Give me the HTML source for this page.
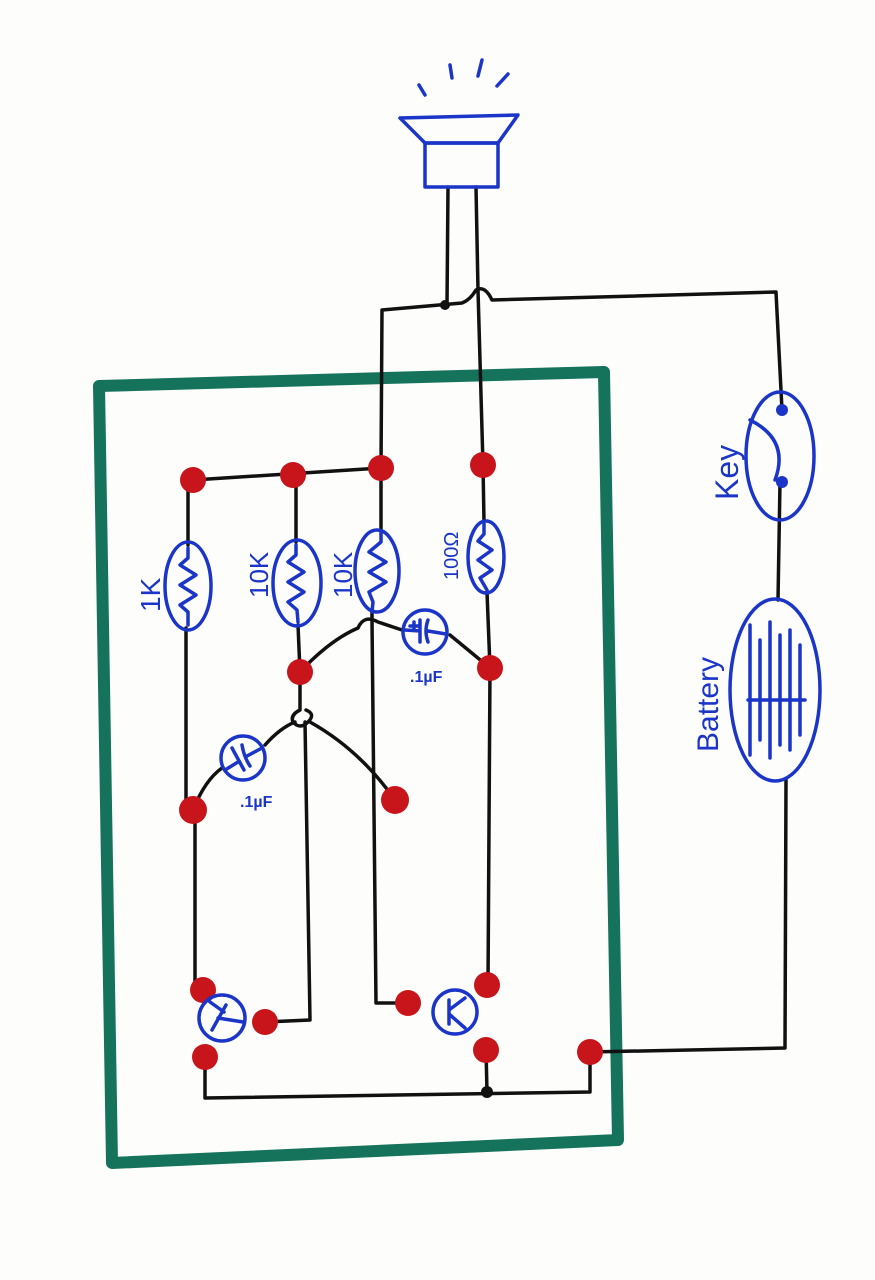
<!DOCTYPE html>
<html><head><meta charset="utf-8"><style>
html,body{margin:0;padding:0;background:#fdfdfb;}
svg{display:block}
text{font-family:"Liberation Sans",sans-serif;fill:#1a35c8;}
</style></head><body>
<svg width="875" height="1280" viewBox="0 0 875 1280" xmlns="http://www.w3.org/2000/svg">
<rect width="875" height="1280" fill="#fdfdfb"/>
<!-- green board -->
<path d="M99,386 L604,372 L618,1140 L112,1163 Z" fill="none" stroke="#14735a" stroke-width="12" stroke-linejoin="round"/>
<g fill="none" stroke="#111" stroke-width="3.5" stroke-linecap="round" stroke-linejoin="round">
<!-- top rail -->
<path d="M193,480 L381,468"/>
<!-- 1K column -->
<path d="M188,480 L188,545 M186,628 L186,810 L195,810 L195,990 M203,990"/>
<!-- 10K col -->
<path d="M296,475 L296,542 M298,625 L300,672"/>
<!-- 10K col 2 -->
<path d="M381,468 L381,530 M372,612 L372,620 L376,1003 L408,1003"/>
<!-- 100 col -->
<path d="M483,465 L484,522 M487,592 L490,668 L488,985"/>
<!-- cap top: 300,672 -> hop -> cap -> 490,668 -->
<path d="M300,672 Q330,640 358,628 Q364,614 378,622 L402,630 M450,635 L490,668"/>
<!-- 300 down with hop -->
<path d="M300,672 L300,710 Q290,715 293,722 Q300,730 308,722 Q316,714 306,710 M305,722 L310,1020 L265,1022"/>
<!-- lower cap path -->
<path d="M193,810 Q205,780 222,768 M265,745 Q280,728 295,722 M310,722 Q360,750 395,800"/>
<!-- bottom rail -->
<path d="M205,1057 L205,1098 L590,1092 L590,1052 M487,1092 L486,1050"/>
<!-- right loop -->
<path d="M590,1052 L785,1048 L786,780 M778,600 L780,482 M782,410 L776,292 L492,300 Q485,285 476,290 Q470,300 462,303 L382,310 L381,468"/>
<!-- speaker leads -->
<path d="M448,187 L447,305 M476,187 L478,290 L483,465"/>
</g>
<circle cx="445" cy="305" r="5" fill="#111"/>
<circle cx="487" cy="1092" r="6" fill="#111"/>
<!-- red pads -->
<g fill="#c8151b">
<circle cx="193" cy="480" r="13"/><circle cx="293" cy="475" r="13"/><circle cx="381" cy="468" r="13"/><circle cx="483" cy="465" r="13"/>
<circle cx="300" cy="672" r="13"/><circle cx="490" cy="668" r="13"/>
<circle cx="193" cy="810" r="14"/><circle cx="395" cy="800" r="14"/>
<circle cx="203" cy="990" r="13"/><circle cx="265" cy="1022" r="13"/><circle cx="205" cy="1057" r="13"/>
<circle cx="408" cy="1003" r="13"/><circle cx="487" cy="985" r="13"/><circle cx="486" cy="1050" r="13"/><circle cx="590" cy="1052" r="13"/>
</g>
<g fill="none" stroke="#1a35c8" stroke-width="3.5" stroke-linecap="round" stroke-linejoin="round">
<!-- resistors -->
<ellipse cx="188" cy="586" rx="23" ry="44"/>
<path d="M188,548 L188,558 L180,565 L196,575 L180,585 L196,595 L180,605 L188,612 L188,625"/>
<ellipse cx="297" cy="583" rx="24" ry="43"/>
<path d="M296,545 L296,555 L288,562 L304,572 L288,582 L304,592 L288,602 L297,610 L298,622"/>
<ellipse cx="377" cy="571" rx="22" ry="41"/>
<path d="M381,532 L381,542 L369,552 L386,562 L369,572 L386,582 L369,592 L373,602 L372,612"/>
<ellipse cx="486" cy="557" rx="18" ry="36"/>
<path d="M484,524 L484,534 L478,541 L492,550 L478,560 L492,570 L480,578 L487,590"/>
<!-- caps -->
<circle cx="425" cy="632" r="22"/>
<path d="M405,630 L420,631 M420,620 L420,642 M428,620 Q424,631 428,642 M428,631 L446,634 M414,622 L414,630 M410,626 L418,626"/>
<circle cx="243" cy="758" r="22"/>
<path d="M225,770 L238,762 M232,748 L244,770 M242,745 Q244,757 250,766 M247,756 L262,748"/>
<!-- transistors -->
<circle cx="222" cy="1018" r="23"/>
<path d="M212,1030 L226,1005 M218,1018 L243,1022 M210,1002 L224,1012"/>
<circle cx="455" cy="1012" r="22"/>
<path d="M449,1000 L449,1024 M449,1010 L465,998 M449,1014 L465,1028"/>
<!-- key -->
<ellipse cx="780" cy="456" rx="34" ry="64"/>
<path d="M750,420 Q790,440 775,480"/>
<!-- battery -->
<ellipse cx="775" cy="690" rx="45" ry="91"/>
<path d="M750,625 L750,755 M760,640 L760,740 M770,622 L770,758 M780,635 L780,745 M790,630 L790,750 M800,645 L800,735 M748,700 L805,700"/>
<!-- speaker -->
<rect x="425" y="143" width="73" height="44"/>
<path d="M400,118 L518,115 L498,143 L425,143 Z"/>
<path d="M425,95 L419,85 M452,78 L450,65 M478,76 L482,60 M497,86 L508,74"/>
</g>
<circle cx="782" cy="410" r="6" fill="#1a35c8"/>
<circle cx="782" cy="482" r="6" fill="#1a35c8"/>
<!-- labels -->
<text transform="translate(160,612) rotate(-90)" font-size="28">1K</text>
<text transform="translate(268,598) rotate(-90)" font-size="26">10K</text>
<text transform="translate(352,598) rotate(-90)" font-size="26">10K</text>
<text transform="translate(458,580) rotate(-90)" font-size="20">100Ω</text>
<text x="410" y="682" font-size="16" font-weight="bold">.1µF</text>
<text x="240" y="807" font-size="16" font-weight="bold">.1µF</text>
<text transform="translate(738,500) rotate(-90)" font-size="32">Key</text>
<text transform="translate(718,752) rotate(-90)" font-size="30">Battery</text>
</svg>
</body></html>
